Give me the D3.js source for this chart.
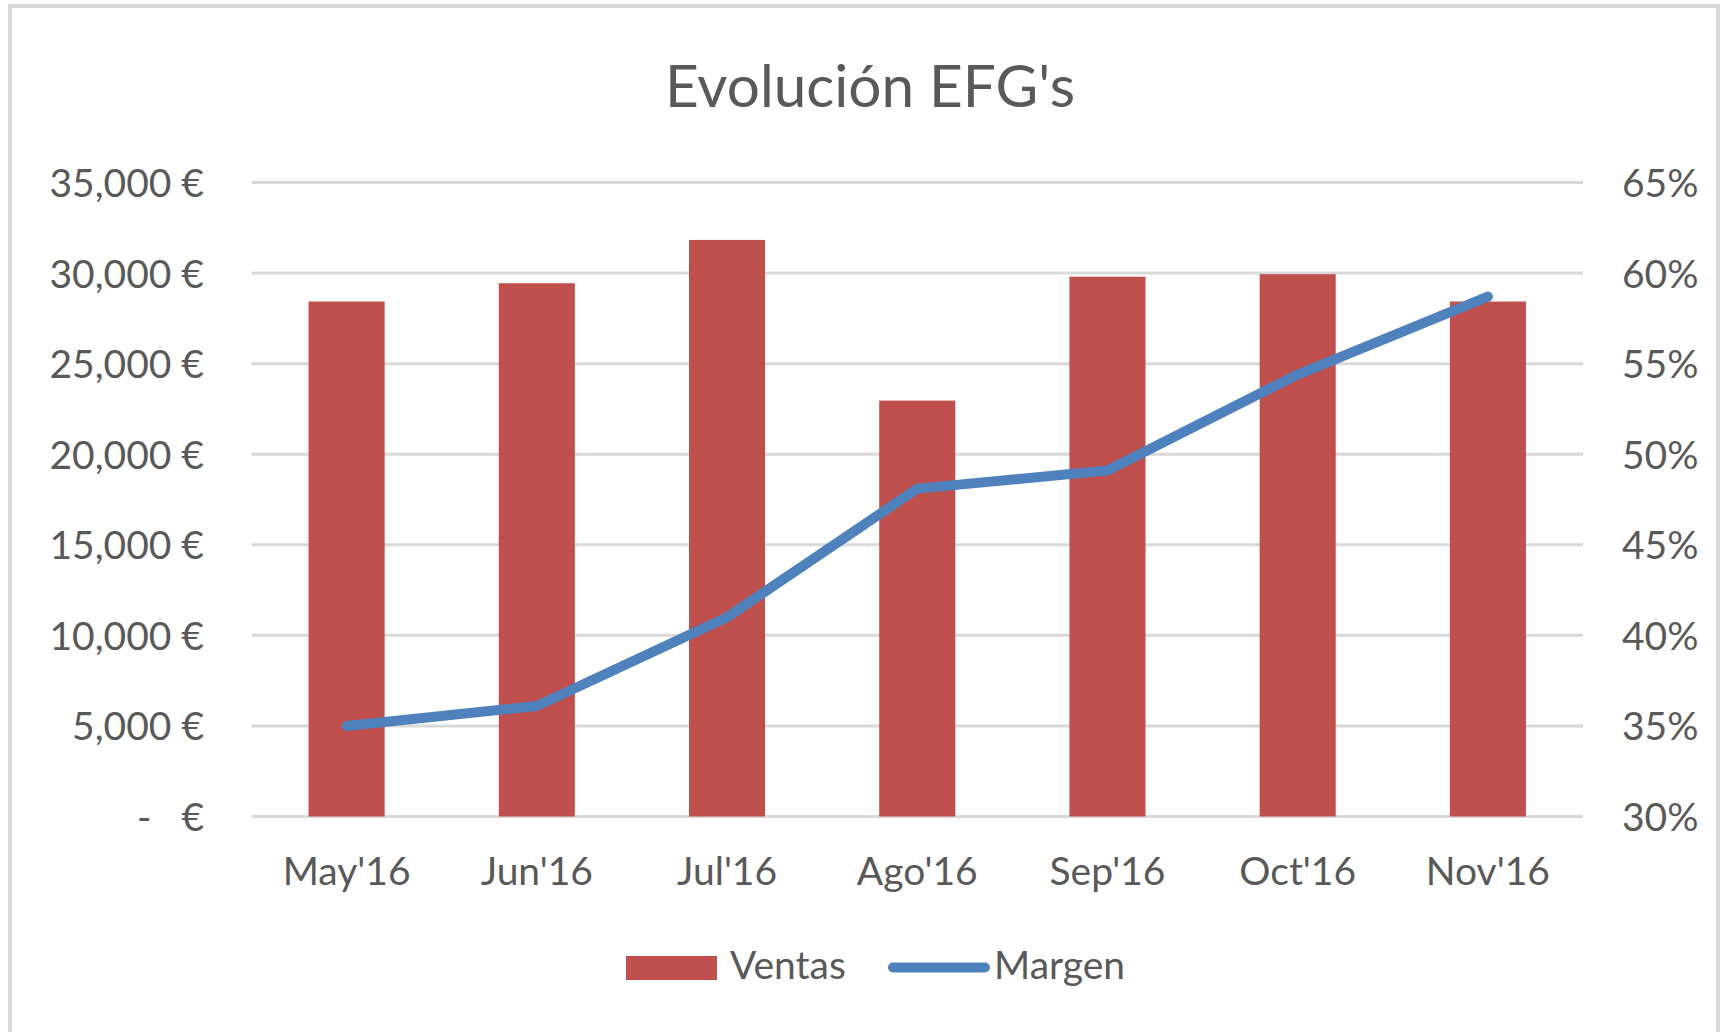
<!DOCTYPE html>
<html>
<head>
<meta charset="utf-8">
<script src="https://cdn.jsdelivr.net/npm/d3@7"></script>
<style>
  html, body { margin: 0; padding: 0; background: #fff; }
  svg { display: block; font-family: Lato, "Open Sans", sans-serif; }
  .tick text { fill: #595959; }
</style>
</head>
<body>
<svg id="chart" width="1730" height="1032"></svg>
<script>
const months = ["May'16", "Jun'16", "Jul'16", "Ago'16", "Sep'16", "Oct'16", "Nov'16"];
const ventas = [28430, 29440, 31830, 22960, 29800, 29940, 28430];
const margen = [0.350, 0.361, 0.410, 0.481, 0.491, 0.544, 0.587];
const ventasTicks = [0, 5000, 10000, 15000, 20000, 25000, 30000, 35000];
const margenTicks = [0.30, 0.35, 0.40, 0.45, 0.50, 0.55, 0.60, 0.65];

const svg = d3.select("#chart");
const width = +svg.attr("width");
const height = +svg.attr("height");

const plotLeft = 251.5, plotRight = 1583, plotTop = 182.5, plotBottom = 816.5;
const red = "#c0504d", blue = "#4f81bd", grid = "#d9d9d9", ink = "#595959";
const fontSize = 39;

svg.append("rect")
  .attr("x", 0).attr("y", 0).attr("width", width).attr("height", height)
  .attr("fill", "#fff");

svg.append("rect")
  .attr("x", 10).attr("y", 6)
  .attr("width", 1708).attr("height", height + 20)
  .attr("fill", "none")
  .attr("stroke", grid)
  .attr("stroke-width", 4);

const x = d3.scaleBand().domain(months).range([plotLeft, plotRight]).paddingInner(0.6).paddingOuter(0.3);
const y = d3.scaleLinear().domain([0, 35000]).range([plotBottom, plotTop]);
const y2 = d3.scaleLinear().domain([0.30, 0.65]).range([plotBottom, plotTop]);

svg.append("text")
  .attr("x", 870)
  .attr("y", 107)
  .attr("text-anchor", "middle")
  .attr("font-size", 58.5)
  .attr("fill", ink)
  .text("Evolución EFG's");

svg.append("g")
  .selectAll("line")
  .data(ventasTicks)
  .join("line")
  .attr("x1", plotLeft).attr("x2", plotRight)
  .attr("y1", d => y(d)).attr("y2", d => y(d))
  .attr("stroke", grid)
  .attr("stroke-width", 3);

const euro = d3.format(",");
const yAxis = d3.axisLeft(y)
  .tickValues(ventasTicks)
  .tickSize(0)
  .tickPadding(47.5)
  .tickFormat(d => d === 0 ? "-\u00a0\u00a0\u00a0€" : `${euro(d)}\u00a0€`);

const gy = svg.append("g").attr("transform", `translate(${plotLeft},0)`).call(yAxis);

const y2Axis = d3.axisRight(y2)
  .tickValues(margenTicks)
  .tickSize(0)
  .tickPadding(39)
  .tickFormat(d3.format(".0%"));

const gy2 = svg.append("g").attr("transform", `translate(${plotRight},0)`).call(y2Axis);

const xAxis = d3.axisBottom(x).tickSize(0).tickPadding(41);
const gx = svg.append("g").attr("transform", `translate(0,${plotBottom})`).call(xAxis);

[gy, gy2, gx].forEach(g => {
  g.select(".domain").remove();
  g.selectAll("text")
    .attr("font-size", fontSize)
    .attr("font-family", "Lato, 'Open Sans', sans-serif")
    .style("white-space", "pre");
});
gy.selectAll("text").attr("dy", "0.36em");
gy2.selectAll("text").attr("dy", "0.36em");

svg.append("g")
  .selectAll("rect")
  .data(ventas)
  .join("rect")
  .attr("x", (d, i) => x(months[i]))
  .attr("y", d => y(d))
  .attr("width", x.bandwidth())
  .attr("height", d => plotBottom - y(d))
  .attr("fill", red);

const line = d3.line()
  .x((d, i) => x(months[i]) + x.bandwidth() / 2)
  .y(d => y2(d));

svg.append("path")
  .datum(margen)
  .attr("d", line)
  .attr("fill", "none")
  .attr("stroke", blue)
  .attr("stroke-width", 10)
  .attr("stroke-linecap", "round")
  .attr("stroke-linejoin", "round");

// legend
const legend = svg.append("g");
legend.append("rect")
  .attr("x", 626).attr("y", 956)
  .attr("width", 91).attr("height", 24)
  .attr("fill", red);
legend.append("text")
  .attr("x", 730).attr("y", 979)
  .attr("font-size", fontSize)
  .attr("fill", ink)
  .text("Ventas");
legend.append("line")
  .attr("x1", 893).attr("x2", 985)
  .attr("y1", 967.5).attr("y2", 967.5)
  .attr("stroke", blue)
  .attr("stroke-width", 10)
  .attr("stroke-linecap", "round");
legend.append("text")
  .attr("x", 994).attr("y", 979)
  .attr("font-size", fontSize)
  .attr("fill", ink)
  .text("Margen");
</script>
</body>
</html>
